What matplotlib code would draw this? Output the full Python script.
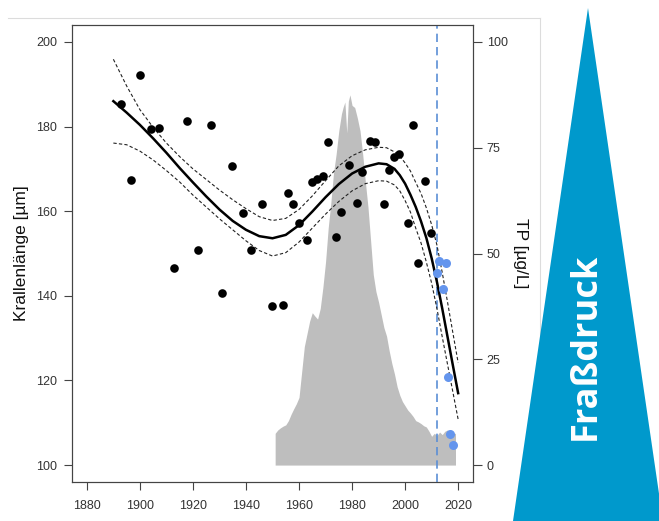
import matplotlib
matplotlib.use("Agg")
import matplotlib.pyplot as plt
from matplotlib.patches import Polygon
from matplotlib.lines import Line2D

plt.rcParams["font.family"] = ["Liberation Sans", "DejaVu Sans"]

# claw length measurements (black) and recent samples (blue)
claw_year = [1893.0, 1896.8, 1900.0, 1904.1, 1907.1, 1912.9, 1917.8, 1922.0,
             1926.7, 1930.9, 1934.9, 1938.9, 1941.9, 1945.9, 1949.8, 1953.9,
             1956.0, 1957.9, 1960.0, 1963.0, 1964.8, 1966.9, 1968.9, 1970.9,
             1973.8, 1975.8, 1979.0, 1981.9, 1983.8, 1986.7, 1988.8, 1992.0,
             1994.1, 1995.7, 1997.6, 2001.1, 2003.1, 2004.9, 2007.6, 2009.9]
claw_len = [185.3, 167.4, 192.3, 179.4, 179.7, 146.5, 181.4, 150.9,
            180.4, 140.7, 170.6, 159.5, 150.9, 161.6, 137.5, 137.8,
            164.2, 161.6, 157.1, 153.1, 166.8, 167.5, 168.2, 176.4,
            153.9, 159.8, 170.9, 162.0, 169.3, 176.7, 176.3, 161.6,
            169.7, 172.9, 173.6, 157.2, 180.3, 147.8, 167.1, 154.9]

recent_year = [2012.9, 2015.4, 2012.2, 2014.1, 2016.0, 2016.9, 2018.2]
recent_len = [148.3, 147.8, 145.3, 141.7, 120.9, 107.4, 104.7]

# smoother with confidence band
fit_year = [1890, 1895, 1900, 1905, 1910, 1915, 1920, 1925, 1930, 1935, 1940,
            1945, 1950, 1955, 1960, 1965, 1970, 1975, 1980, 1985, 1990, 1993,
            1996, 1998, 2000, 2002, 2004, 2006, 2008, 2010, 2012, 2014, 2016,
            2018, 2020]
fit_mid = [186.0, 183.3, 180.4, 177.2, 173.8, 170.2, 166.8, 163.5, 160.4, 157.7,
           155.6, 154.1, 153.6, 154.4, 156.7, 159.9, 163.3, 166.4, 168.9, 170.5,
           171.3, 171.1, 170.0, 168.5, 166.5, 163.9, 161.0, 157.6, 153.7, 148.9,
           143.3, 137.0, 130.3, 123.6, 117.0]
fit_upper = [195.9, 189.6, 184.0, 179.8, 176.1, 172.9, 170.0, 167.5, 165.0, 162.7,
             160.6, 158.7, 157.8, 158.3, 160.4, 163.6, 167.2, 170.7, 173.1, 174.5,
             175.1, 175.0, 174.0, 173.0, 171.4, 169.5, 166.8, 164.2, 160.8, 156.8,
             152.0, 145.5, 138.5, 131.3, 124.2]
fit_lower = [176.1, 175.7, 174.2, 172.1, 169.6, 166.9, 163.8, 161.0, 158.2, 155.6,
             153.0, 150.7, 149.4, 150.2, 152.7, 156.0, 159.3, 162.3, 164.8, 166.5,
             167.2, 167.1, 166.2, 164.8, 162.5, 159.8, 156.0, 152.5, 148.0, 143.0,
             137.0, 130.3, 123.8, 117.3, 110.8]

# total phosphorus
tp_year = [1951, 1952, 1953, 1954, 1955, 1956, 1957, 1958, 1959, 1960, 1961,
           1962, 1963, 1964, 1965, 1966, 1967, 1968, 1969, 1970, 1971, 1972,
           1973, 1974, 1975, 1976, 1976.6, 1977.3, 1978.0, 1978.6, 1979.2,
           1980, 1981, 1982, 1983, 1984, 1985, 1986, 1987, 1988, 1989, 1990,
           1991, 1992, 1993, 1994, 1995, 1996, 1997, 1998, 1999, 2000, 2001,
           2002, 2003, 2004, 2005, 2006, 2007, 2008, 2009, 2010, 2011, 2012,
           2013, 2014, 2015, 2016, 2017, 2018, 2019]
tp = [7.5, 8.3, 8.8, 9.2, 9.5, 10.5, 12.0, 13.3, 14.5, 16.0, 22.0,
      28.0, 31.0, 34.0, 36.0, 35.2, 34.5, 37.0, 42.0, 48.0, 56.0, 62.0,
      69.0, 73.5, 79.0, 83.0, 84.5, 85.8, 78.5, 86.0, 87.5,
      85.0, 84.5, 82.0, 79.0, 73.5, 67.0, 61.0, 53.0, 45.0, 41.0, 38.5,
      35.5, 32.5, 30.5, 27.0, 24.0, 21.5, 18.5, 16.5, 15.0, 14.0, 13.0,
      12.3, 11.5, 10.5, 10.2, 9.8, 9.3, 9.0, 8.0, 6.8, 7.5, 7.0,
      7.8, 7.2, 8.0, 8.3, 7.8, 7.5, 7.5]

marker_year = 2012

fig = plt.figure(figsize=(6.59, 5.21), dpi=100)

# light frame of the pasted picture
fig.add_artist(Line2D([8 / 659, 540 / 659], [1 - 18 / 521] * 2,
                      transform=fig.transFigure, color="#dcdcdc", lw=0.8,
                      zorder=0))
fig.add_artist(Line2D([540 / 659] * 2, [1 - 18 / 521, 0],
                      transform=fig.transFigure, color="#dcdcdc", lw=0.8,
                      zorder=0))

ax = fig.add_axes([72 / 659, 39 / 521, 401 / 659, 457 / 521])
ax2 = ax.twinx()
ax.set_zorder(ax2.get_zorder() + 1)
ax.patch.set_visible(False)

ax2.fill_between(tp_year, tp, 0, color="#bebebe", lw=0)
ax2.set_ylim(-4, 104)
ax2.set_yticks([0, 25, 50, 75, 100])

ax.axvline(marker_year, color="#5b8fd6", lw=1.2, ls=(0, (5, 3)), zorder=2)
ax.plot(fit_year, fit_upper, color="#222222", lw=0.8, ls=(0, (3, 2)), zorder=3)
ax.plot(fit_year, fit_lower, color="#222222", lw=0.8, ls=(0, (3, 2)), zorder=3)
ax.plot(fit_year, fit_mid, color="black", lw=1.8, zorder=3)
ax.plot(claw_year, claw_len, "o", color="black", ms=6.2, mew=0, zorder=4)
ax.plot(recent_year, recent_len, "o", color="#6495ed", ms=6.5, mew=0, zorder=4)

ax.set_xlim(1874.4, 2025.6)
ax.set_ylim(96, 204)
ax.set_xticks(range(1880, 2021, 20))
ax.set_yticks(range(100, 201, 20))

for a in (ax, ax2):
    for s in a.spines.values():
        s.set_color("#444444")
        s.set_linewidth(0.8)
ax.tick_params(axis="both", direction="out", length=5.8, width=0.8,
               color="#444444", labelcolor="#333333", labelsize=9)
ax.tick_params(axis="y", pad=5)
ax.tick_params(axis="x", pad=7)
ax2.tick_params(axis="y", direction="out", length=6.2, width=0.8,
                color="#444444", labelcolor="#333333", labelsize=9, pad=3.6)

ax.set_ylabel("Krallenlänge [µm]", fontsize=12.5, color="#111111", labelpad=5)
ax2.set_ylabel("TP [µg/L]", fontsize=12.5, color="#111111", rotation=270,
               va="bottom", labelpad=4)

# grazing pressure wedge
fig.add_artist(Polygon([(588 / 659, 1 - 8 / 521), (513 / 659, 0), (663 / 659, 0)],
                       closed=True, transform=fig.transFigure,
                       facecolor="#0099cc", edgecolor="none", zorder=5))
fig.text(586 / 659, 1 - 346 / 521, "Fraßdruck", rotation=90, ha="center",
         va="center", color="white", fontsize=26, fontweight="bold",
         family=["Open Sans", "DejaVu Sans"], zorder=6)

fig.savefig("out.png", dpi=100)
